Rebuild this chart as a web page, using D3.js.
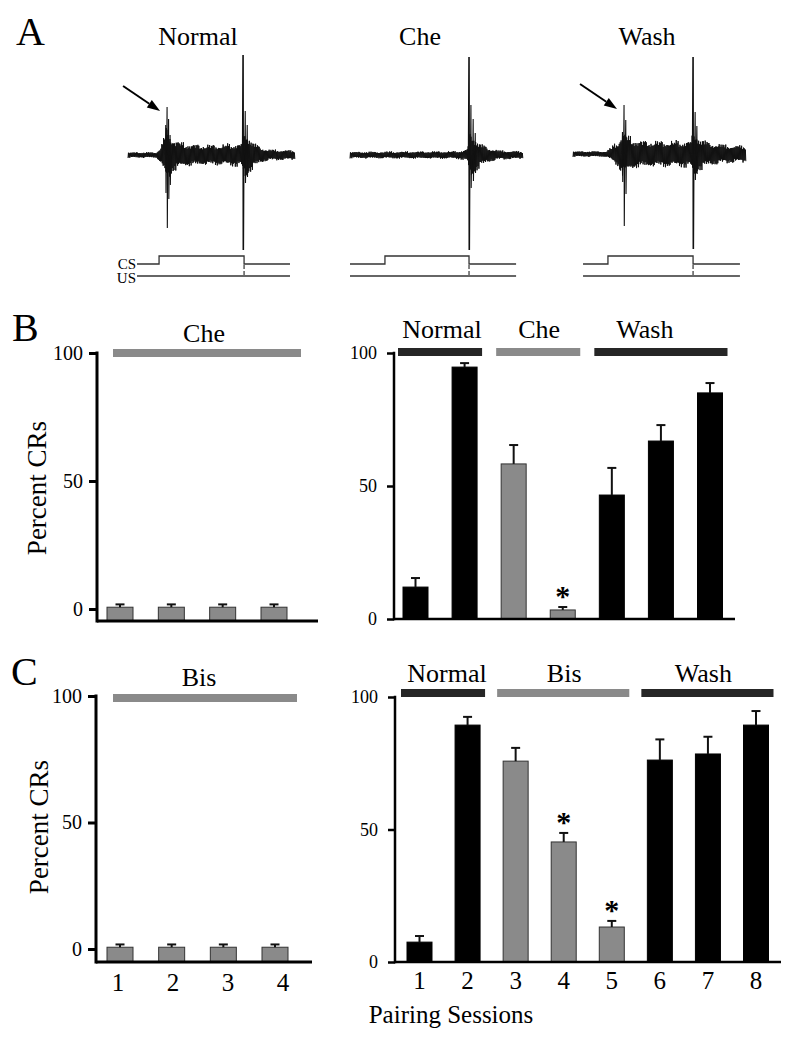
<!DOCTYPE html>
<html>
<head>
<meta charset="utf-8">
<script src="https://cdn.jsdelivr.net/npm/d3@7"></script>
<style>
  html, body { margin: 0; padding: 0; background: #fff; }
  svg { display: block; }
</style>
</head>
<body>
<svg id="chart" width="800" height="1044"></svg>
<script>
// ---------------- DATA ----------------
// Panel A: EMG traces (time in normalized sweep units 0..100, amplitude in arbitrary units)
const traceTitles = ["Normal", "Che", "Wash"];
const normalEnvelope = [[0,3],[17,3],[19,7],[21,16],[23,28],[25,24],[27,18],[30,15],[35,12],[45,11],[55,11],[62,12],[67,12],[68.5,16],[70,28],[72,22],[75,14],[79,9],[84,6],[100,5]];
const normalSpikes = [[23.4,48,-73],[22.6,30,-38],[24.3,36,-44],[25.2,20,-30],[68.9,100,-95],[70.2,44,-28],[71.4,30,-22]];
const cheEnvelope = [[0,3.5],[60,4],[66,5],[68,8],[69.5,28],[72,20],[75,13],[80,8],[86,5],[100,4]];
const cheSpikes = [[68.8,98,-95],[69.9,50,-33],[71.2,36,-26],[72.4,22,-18]];
const washEnvelope = [[0,3],[19,3],[22,7],[26,14],[29,24],[32,20],[36,15],[45,14],[55,14],[66,14],[68.5,16],[70,26],[73,18],[78,13],[88,10],[100,9]];
const washSpikes = [[29.5,49,-72],[30.5,34,-40],[28.6,22,-28],[69.4,97,-95],[70.6,42,-26],[71.6,28,-20]];
const traceEnvelopes = [normalEnvelope, cheEnvelope, washEnvelope];
const traceSpikes = [normalSpikes, cheSpikes, washSpikes];
const crArrowAt = [23.4, null, 29.5];           // CR spike marked by arrow
const csStart = [5.4, 0, 5.8];
const csOnset = [18.6, 20.2, 20.2];
const usOnset = [69.5, 68.8, 69.4];
const csEnd   = [97, 96, 96.5];
const jitterA = [1, .55, .82, .3, .95, .6, .22, .88, .45, .72, .38, .9, .15, .66, .5, .8, .35];
const jitterB = [1, .7, .9, .5, .85, .6, 1, .75, .45, .95, .65];

// Panel B
const sessionsBLeft = [1, 2, 3, 4];
const meanBLeft = [0.7, 0.7, 0.7, 0.7];
const semBLeft  = [1.1, 1.1, 1.1, 1.1];
const sessionsBRight = [1, 2, 3, 4, 5, 6, 7];
const meanBRight = [12, 94.7, 58.3, 3.4, 46.6, 66.9, 85];
const semBRight  = [3.4, 1.5, 7.1, 1.1, 10.2, 6.0, 3.7];
const condBRight = ["Normal","Normal","Che","Che","Wash","Wash","Wash"];
const sigBRight  = [4];

// Panel C
const sessionsCLeft = [1, 2, 3, 4];
const meanCLeft = [0.7, 0.7, 0.7, 0.7];
const semCLeft  = [1.1, 1.1, 1.1, 1.1];
const sessionsCRight = [1, 2, 3, 4, 5, 6, 7, 8];
const meanCRight = [7.5, 89.4, 75.8, 45.3, 13.2, 76.2, 78.5, 89.4];
const semCRight  = [2.3, 3.1, 5.0, 3.4, 2.3, 7.8, 6.5, 5.3];
const condCRight = ["Normal","Normal","Bis","Bis","Bis","Wash","Wash","Wash"];
const sigCRight  = [4, 5];

const yTicks = [0, 50, 100];
const drugConds = ["Che", "Bis"];

// ---------------- DRAWING ----------------
const FONT = '"Liberation Serif"';
(function () {
  const c = document.createElement("canvas").getContext("2d");
  [20, 26, 30, 40].forEach(s => { c.font = s + 'px "Liberation Serif"'; c.measureText("Normal Che Wash Bis 0123456789 Percent CRs *"); });
})();

const svg = d3.select("#chart");
const GRAY = "#8a8a8a", DARK = "#262626";

function txt(g, x, y, s, size, anchor = "middle") {
  return g.append("text").attr("x", x).attr("y", y).text(s)
    .style("font-family", FONT).style("font-size", size + "px")
    .attr("text-anchor", anchor).attr("fill", "#000");
}

function draw() {
txt(svg, 16, 45, "A", 40, "start");
txt(svg, 12, 341, "B", 40, "start");
txt(svg, 11, 685, "C", 40, "start");

// ---- Panel A traces ----
const traceLayout = [
  { x0: 128, x1: 295, base: 155, title: 198 },
  { x0: 350, x1: 523, base: 155, title: 420 },
  { x0: 573, x1: 746, base: 154, title: 647 }
];
traceTitles.forEach((name, k) => {
  const L = traceLayout[k];
  const g = svg.append("g");
  txt(g, L.title, 45, name, 26);
  const xs = d3.scaleLinear().domain([0, 100]).range([L.x0, L.x1]);
  const ys = d3.scaleLinear().domain([-100, 100]).range([L.base + 100, L.base - 100]);
  const envScale = d3.scaleLinear()
    .domain(traceEnvelopes[k].map(d => d[0]))
    .range(traceEnvelopes[k].map(d => d[1]));
  const step = 0.27;
  const pts = d3.range(0, 100 + step / 2, step).map((t, i) => {
    const sgn = i % 2 ? 1 : -1;
    const m = jitterA[i % jitterA.length] * jitterB[(i >> 1) % jitterB.length];
    return [t, sgn * envScale(t) * (0.45 + 0.55 * m)];
  });
  const line = d3.line().x(d => xs(d[0])).y(d => ys(d[1]));
  g.append("path").attr("d", line(pts)).attr("fill", "none")
    .attr("stroke", "#111").attr("stroke-width", 1);
  traceSpikes[k].forEach(([t, up, dn]) => {
    const p = [[t - 0.25, 0], [t, up], [t + 0.15, dn], [t + 0.4, 0]];
    g.append("path").attr("d", line(p)).attr("fill", "none")
      .attr("stroke", "#111").attr("stroke-width", up > 80 ? 1.6 : 1.1);
  });
  if (crArrowAt[k] != null) {
    const sp = traceSpikes[k].find(s => s[0] === crArrowAt[k]);
    const tipX = xs(sp[0]) - 7, tipY = ys(sp[1]) + 4;
    const tailX = tipX - 37, tailY = tipY - 25;
    const ang = Math.atan2(tipY - tailY, tipX - tailX);
    const hl = 13, hw = 4.5;
    const bx = tipX - hl * Math.cos(ang), by = tipY - hl * Math.sin(ang);
    g.append("line").attr("x1", tailX).attr("y1", tailY).attr("x2", bx).attr("y2", by)
      .attr("stroke", "#000").attr("stroke-width", 2);
    g.append("path").attr("d", `M${tipX},${tipY}L${bx + hw * Math.sin(ang)},${by - hw * Math.cos(ang)}L${bx - hw * Math.sin(ang)},${by + hw * Math.cos(ang)}Z`)
      .attr("fill", "#000");
  }
  const csY = d3.scaleLinear().domain([0, 1]).range([264, 256]);
  const usY = 276;
  const csPath = `M${xs(csStart[k])},${csY(0)}H${xs(csOnset[k])}V${csY(1)}H${xs(usOnset[k])}V${csY(0)}H${xs(csEnd[k])}`;
  g.append("path").attr("d", csPath).attr("fill", "none").attr("stroke", "#333").attr("stroke-width", 1.3);
  g.append("line").attr("x1", xs(csStart[k])).attr("x2", xs(csEnd[k])).attr("y1", usY).attr("y2", usY)
    .attr("stroke", "#333").attr("stroke-width", 1.3);
  g.append("line").attr("x1", xs(usOnset[k])).attr("x2", xs(usOnset[k])).attr("y1", csY(0) + 1).attr("y2", usY)
    .attr("stroke", "#333").attr("stroke-width", 1.2).attr("stroke-dasharray", "4,2");
  if (k === 0) {
    txt(g, xs(csStart[k]) - 1, 269, "CS", 15, "end");
    txt(g, xs(csStart[k]) - 1, 283, "US", 15, "end");
  }
});

// ---- Bar panels ----
function barPanel(o) {
  const g = svg.append("g");
  const x = d3.scalePoint().domain(o.sessions).range(o.xRange);
  const y = d3.scaleLinear().domain([0, 100]).range(o.yRange);
  const axisY = o.axisBottom != null ? o.axisBottom : y(0);
  const bw = o.barWidth;

  const ax = g.append("g").attr("transform", `translate(${o.axisX},0)`)
    .call(d3.axisLeft(y).tickValues(yTicks).tickSize(o.tickSize).tickSizeOuter(0).tickPadding(o.tickPad));
  ax.attr("font-family", null).attr("font-size", null);
  ax.select(".domain").remove();
  ax.selectAll("line").attr("stroke", "#000").attr("stroke-width", o.axisW);
  ax.selectAll("text").style("font-family", FONT).style("font-size", o.tickFont + "px").attr("fill", "#000");

  o.sessions.forEach((s, i) => {
    const gray = o.conds ? drugConds.includes(o.conds[i]) : true;
    g.append("rect").attr("x", x(s) - bw / 2).attr("width", bw)
      .attr("y", y(o.means[i])).attr("height", axisY - y(o.means[i]))
      .attr("fill", gray ? GRAY : "#000").attr("stroke", gray ? "#333" : "#000").attr("stroke-width", 1);
    const top = y(o.means[i] + o.sems[i]);
    g.append("line").attr("x1", x(s)).attr("x2", x(s)).attr("y1", y(o.means[i])).attr("y2", top)
      .attr("stroke", "#111").attr("stroke-width", 2);
    g.append("line").attr("x1", x(s) - 4.5).attr("x2", x(s) + 4.5).attr("y1", top).attr("y2", top)
      .attr("stroke", "#111").attr("stroke-width", 2);
    if (o.sig && o.sig.includes(s)) {
      txt(g, x(s), top - 1, "*", 30).style("font-weight", "bold");
    }
  });

  g.append("line").attr("x1", o.axisX).attr("x2", o.axisX).attr("y1", y(100) - o.axisW / 2).attr("y2", axisY + o.axisW / 2)
    .attr("stroke", "#000").attr("stroke-width", o.axisW);
  g.append("line").attr("x1", o.axisX).attr("x2", o.xEnd).attr("y1", axisY).attr("y2", axisY)
    .attr("stroke", "#000").attr("stroke-width", o.axisW);

  if (o.xLabels) {
    const xl = o.xLabelRange ? d3.scalePoint().domain(o.sessions).range(o.xLabelRange) : x;
    o.sessions.forEach(s => txt(g, xl(s), o.xLabelY, String(s), 25));
  }

  o.groups.forEach((grp, j) => {
    const x1 = x(grp.from) - bw / 2 - o.grpPadL;
    const x2 = x(grp.to) + bw / 2 + o.grpPadR;
    const gy = y(100) + o.grpDy;
    g.append("rect").attr("x", x1).attr("y", gy - 4).attr("width", x2 - x1).attr("height", 8)
      .attr("fill", drugConds.includes(grp.label) ? GRAY : DARK);
    txt(g, (x1 + x2) / 2 + (o.grpLabelDx ? o.grpLabelDx[j] : 0), gy + o.grpLabelDy, grp.label, 26);
  });

  if (o.yLabel) {
    g.append("text").attr("transform", `translate(${o.yLabelPos[0]},${o.yLabelPos[1]}) rotate(-90)`)
      .attr("text-anchor", "middle").attr("dominant-baseline", "middle")
      .style("font-family", FONT).style("font-size", "27px").attr("fill", "#000").text("Percent CRs");
  }
  return g;
}

function groupsFrom(sessions, conds) {
  const out = [];
  conds.forEach((c, i) => {
    if (!out.length || out[out.length - 1].label !== c) out.push({ label: c, from: sessions[i], to: sessions[i] });
    else out[out.length - 1].to = sessions[i];
  });
  return out;
}

barPanel({
  sessions: sessionsBLeft, means: meanBLeft, sems: semBLeft, conds: null,
  xRange: [120, 274], yRange: [609, 353], axisBottom: 621, axisX: 97, xEnd: 318,
  barWidth: 26, tickSize: 8, tickPad: 6, tickFont: 20, axisW: 3,
  groups: [{ label: "Che", from: 1, to: 4 }], grpPadL: -6, grpPadR: 14, grpDy: 0, grpLabelDy: -11, grpLabelDx: [-3],
  yLabel: true, yLabelPos: [40, 488]
});
barPanel({
  sessions: sessionsBRight, means: meanBRight, sems: semBRight, conds: condBRight, sig: sigBRight,
  xRange: [415.5, 710], yRange: [619, 353], axisX: 394, xEnd: 735,
  barWidth: 25, tickSize: 7, tickPad: 10, tickFont: 18, axisW: 2.5,
  groups: groupsFrom(sessionsBRight, condBRight), grpPadL: 5, grpPadR: 5, grpDy: -1, grpLabelDy: -14, grpLabelDx: [2, 1, -16]
});
barPanel({
  sessions: sessionsCLeft, means: meanCLeft, sems: semCLeft, conds: null,
  xRange: [120, 275], yRange: [949, 696], axisBottom: 962, axisX: 96, xEnd: 312,
  barWidth: 26, tickSize: 8, tickPad: 6, tickFont: 20, axisW: 3,
  xLabels: true, xLabelRange: [118, 283], xLabelY: 991,
  groups: [{ label: "Bis", from: 1, to: 4 }], grpPadL: -6, grpPadR: 9, grpDy: 2, grpLabelDy: -12, grpLabelDx: [-6],
  yLabel: true, yLabelPos: [42, 827]
});
barPanel({
  sessions: sessionsCRight, means: meanCRight, sems: semCRight, conds: condCRight, sig: sigCRight,
  xRange: [419.5, 756], yRange: [962, 697], axisX: 395, xEnd: 781,
  barWidth: 25, tickSize: 7, tickPad: 10, tickFont: 18, axisW: 2.5,
  xLabels: true, xLabelY: 989,
  groups: groupsFrom(sessionsCRight, condCRight), grpPadL: 6, grpPadR: 5, grpDy: -4, grpLabelDy: -11, grpLabelDx: [4, 1, -4]
});

txt(svg, 451, 1023, "Pairing Sessions", 25);
}
draw();
</script>
</body>
</html>
